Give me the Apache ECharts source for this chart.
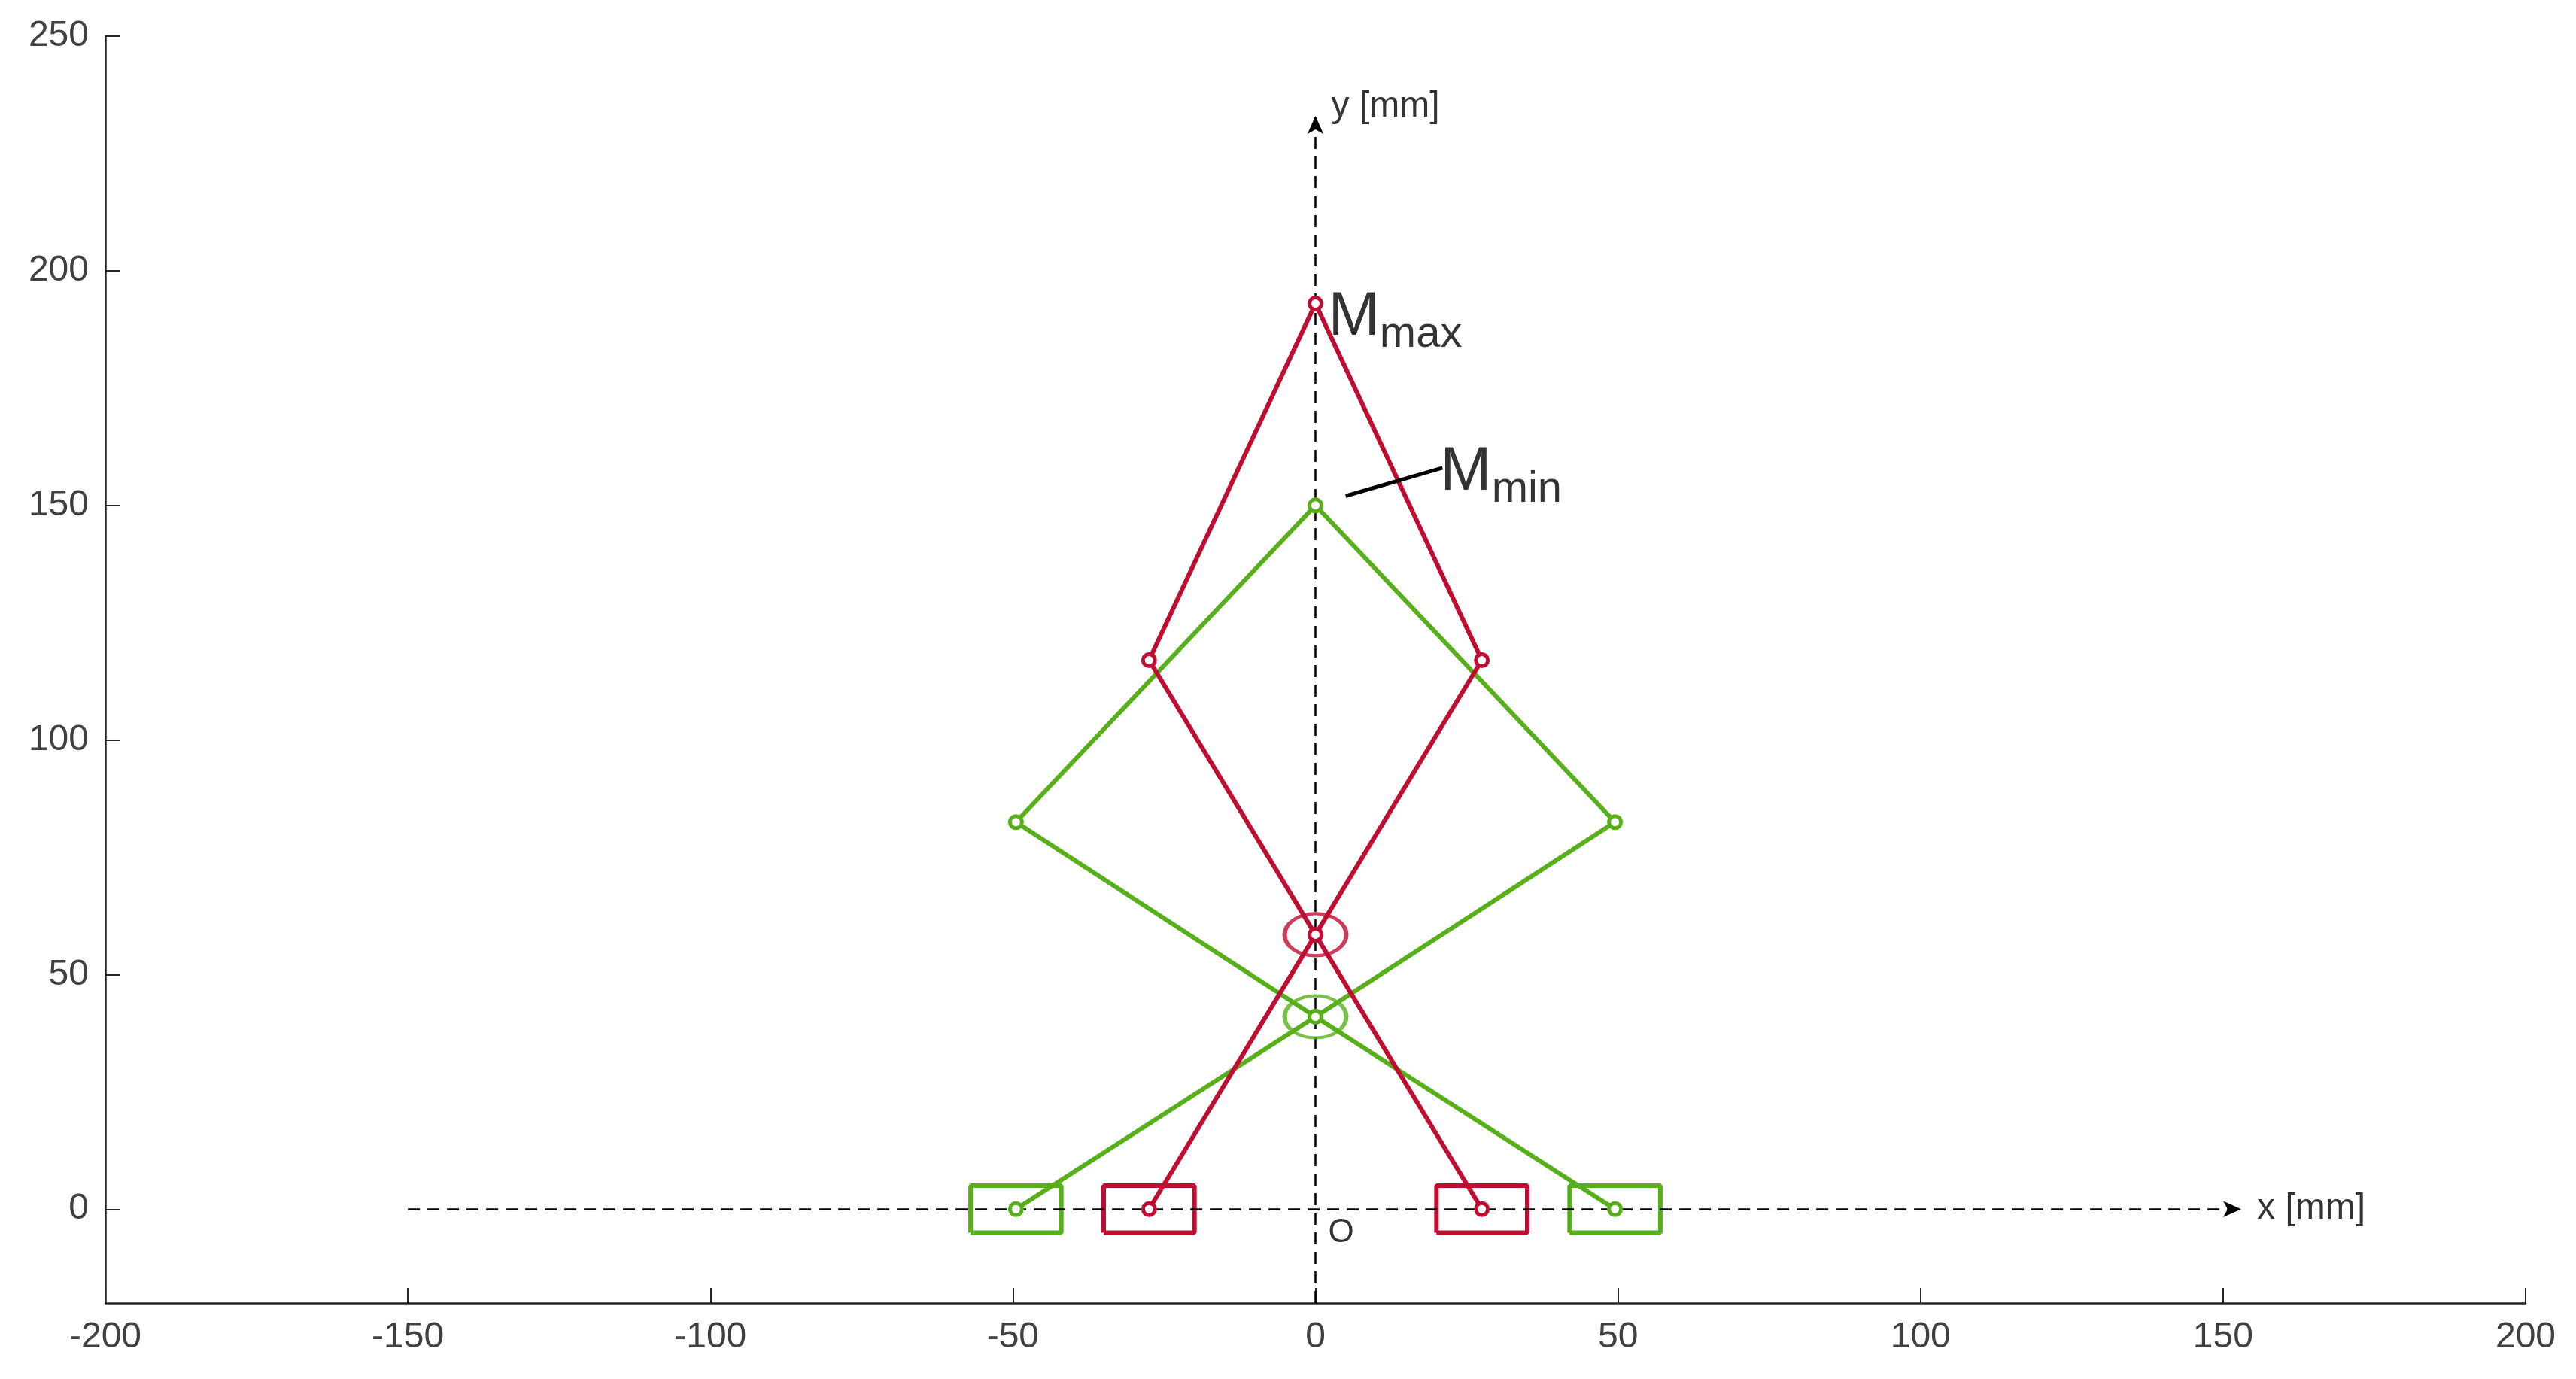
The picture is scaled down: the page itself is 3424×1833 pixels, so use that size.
<!DOCTYPE html>
<html>
<head>
<meta charset="utf-8">
<script src="https://cdn.jsdelivr.net/npm/echarts@6/dist/echarts.min.js"></script>
<style>html,body{margin:0;background:#fff}#chart{width:3424px;height:1833px}</style>
</head>
<body>
<div id="chart"></div>
<script>
// mechanism at max position (red) and min position (green)
const redPath = [[-27.5, 0], [0, 58.5], [27.5, 117], [0, 193], [-27.5, 117], [0, 58.5], [27.5, 0]];
const greenPath = [[-49.5, 0], [0, 41], [49.5, 82.5], [0, 150], [-49.5, 82.5], [0, 41], [49.5, 0]];
const redSliders = [-27.5, 27.5];
const greenSliders = [-49.5, 49.5];
const redCenter = [0, 58.5];
const greenCenter = [0, 41];
const yTicks = [0, 50, 100, 150, 200, 250];

const RED = '#c00d32';
const GREEN = '#57b01a';
const SLIDER_W = 15, SLIDER_H = 10;

const rect = (cx) => [
  [cx - SLIDER_W / 2, -SLIDER_H / 2], [cx + SLIDER_W / 2, -SLIDER_H / 2],
  [cx + SLIDER_W / 2, SLIDER_H / 2], [cx - SLIDER_W / 2, SLIDER_H / 2],
  [cx - SLIDER_W / 2, -SLIDER_H / 2]
];

const linkSeries = (data, color) => ({
  type: 'line', data: data, symbol: 'circle', symbolSize: 16,
  itemStyle: { color: '#fff', borderColor: color, borderWidth: 5 },
  lineStyle: { color: color, width: 6 }, z: 5
});
const rectSeries = (cx, color) => ({
  type: 'line', data: rect(cx), symbol: 'none',
  lineStyle: { color: color, width: 6 }, z: 4
});
const jointSeries = (c, color) => ({
  type: 'scatter', data: [c], symbol: 'circle', symbolSize: [82, 56],
  itemStyle: { color: 'rgba(0,0,0,0)', borderColor: color, borderWidth: 5 }, z: 6
});
const textSeries = (pos, text, extra) => ({
  type: 'scatter', data: [pos], symbolSize: 0, silent: true,
  label: Object.assign({ show: true, formatter: text, color: '#000',
    fontFamily: 'Liberation Sans', fontSize: 48 }, extra)
});
const mLabel = (pos, sub) => textSeries(pos, '{a|M}{b|' + sub + '}', {
  position: 'right',
  rich: {
    a: { fontSize: 82, fontFamily: 'Liberation Sans', color: '#000' },
    b: { fontSize: 58, fontFamily: 'Liberation Sans', color: '#000', padding: [46, 0, 0, 0] }
  }
});

const chart = echarts.init(document.getElementById('chart'));
const series = [
  {
    type: 'line', data: [], markLine: {
      silent: true, symbol: ['none', 'arrow'], symbolSize: [16, 24], label: { show: false },
      lineStyle: { color: '#000', type: [16, 10], width: 2.5 },
      data: [
        [{ coord: [-150, 0] }, { coord: [153, 0] }],
        [{ coord: [0, -20] }, { coord: [0, 233] }]
      ]
    }
  },
  linkSeries(greenPath, GREEN),
  linkSeries(redPath, RED),
  rectSeries(greenSliders[0], GREEN), rectSeries(greenSliders[1], GREEN),
  rectSeries(redSliders[0], RED), rectSeries(redSliders[1], RED),
  jointSeries(greenCenter, GREEN), jointSeries(redCenter, RED),
  {
    type: 'line', data: [[5, 152], [21, 158]], symbol: 'none',
    lineStyle: { color: '#000', width: 5 }, z: 7
  },
  textSeries([155, 0], 'x [mm]', { position: 'right' }),
  textSeries([2, 235], 'y [mm]', { position: 'right' }),
  textSeries([1.5, -5], 'O', { position: 'right', fontSize: 44 }),
  mLabel([1.5, 190], 'max'),
  mLabel([20, 157], 'min')
];

chart.setOption({
  animation: false,
  grid: { left: 140, right: 67, top: 48, bottom: 101 },
  xAxis: {
    type: 'value', min: -200, max: 200, interval: 50, splitLine: { show: false },
    axisLine: { onZero: false, lineStyle: { color: '#262626', width: 2.5 } },
    axisTick: { inside: true, length: 20, lineStyle: { color: '#262626', width: 2 } },
    axisLabel: { color: '#404040', fontSize: 48, fontFamily: 'Liberation Sans', margin: 22 }
  },
  yAxis: {
    type: 'value', min: -20, max: 250, splitLine: { show: false },
    axisLine: { show: true, onZero: false, lineStyle: { color: '#262626', width: 2.5 } },
    axisTick: { show: true, inside: true, length: 20, customValues: yTicks, lineStyle: { color: '#262626', width: 2 } },
    axisLabel: { color: '#404040', fontSize: 48, fontFamily: 'Liberation Sans', margin: 22, customValues: yTicks }
  },
  series: series
});
</script>
</body>
</html>
